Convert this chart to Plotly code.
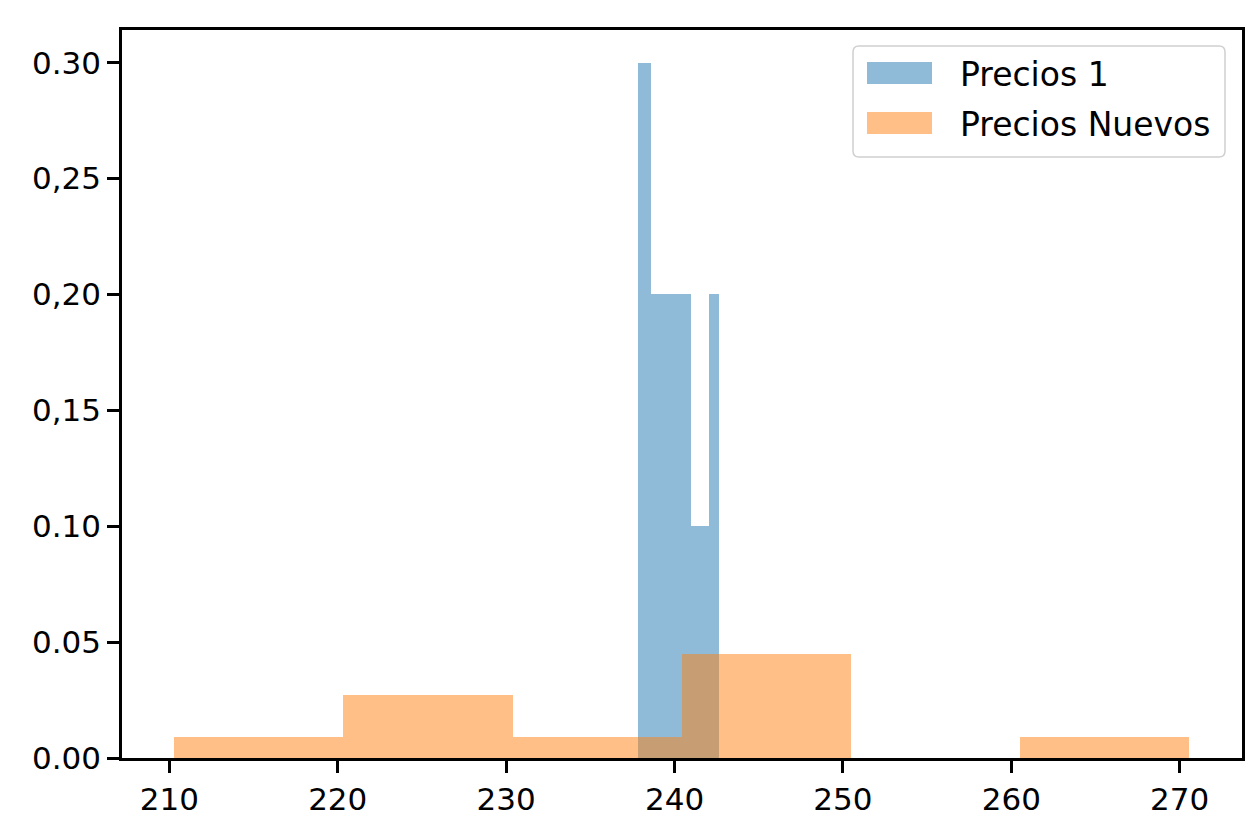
import numpy as np
import plotly.graph_objects as go

# ---- data ----
blue_name = "Precios 1"
blue_edges = [237.82, 238.6, 240.98, 242.06, 242.62]
blue_density = [0.30, 0.20, 0.10, 0.20]

orange_name = "Precios Nuevos"
orange_edges = [210.28, 220.33, 230.38, 240.43, 250.48, 260.53, 270.58]
orange_density = [0.009, 0.027, 0.009, 0.045, 0.0, 0.009]

x_ticks = [210, 220, 230, 240, 250, 260, 270]
y_ticks = [0.0, 0.05, 0.10, 0.15, 0.20, 0.25, 0.30]
y_ticktext = ["0.00", "0.05", "0.10", "0,15", "0,20", "0,25", "0.30"]

BLUE = "rgba(31,119,180,0.5)"
ORANGE = "rgba(255,127,14,0.5)"
FONT = "DejaVu Sans"


def centers_widths(edges):
    e = np.asarray(edges, dtype=float)
    return (e[:-1] + e[1:]) / 2, np.diff(e)


bc, bw = centers_widths(blue_edges)
oc, ow = centers_widths(orange_edges)

fig = go.Figure()
fig.add_trace(go.Bar(x=bc, y=blue_density, width=bw, name=blue_name,
                     marker=dict(color=BLUE, line=dict(width=0))))
fig.add_trace(go.Bar(x=oc, y=orange_density, width=ow, name=orange_name,
                     marker=dict(color=ORANGE, line=dict(width=0))))

L, R, T, B = 122, 16, 30, 74
W, H = 1258, 832
pw, ph = W - L - R, H - T - B


def px(xp):
    return (xp - L) / pw


def py(yp):
    return (H - B - yp) / ph


# manual matplotlib-like legend
x0, x1, y0, y1 = px(853), px(1225), py(157), py(46)
rx, ry = 6 / pw, 6 / ph
path = (f"M {x0+rx},{y1} L {x1-rx},{y1} Q {x1},{y1} {x1},{y1-ry} "
        f"L {x1},{y0+ry} Q {x1},{y0} {x1-rx},{y0} L {x0+rx},{y0} "
        f"Q {x0},{y0} {x0},{y0+ry} L {x0},{y1-ry} Q {x0},{y1} {x0+rx},{y1} Z")
shapes = [dict(type="path", path=path, xref="paper", yref="paper",
               line=dict(color="#d0d0d0", width=1.5), fillcolor="rgba(255,255,255,0.8)")]
shapes.append(dict(type="rect", xref="paper", yref="paper",
                   x0=px(867), x1=px(932), y0=py(84), y1=py(62),
                   fillcolor=BLUE, line=dict(width=0)))
shapes.append(dict(type="rect", xref="paper", yref="paper",
                   x0=px(867), x1=px(932), y0=py(134), y1=py(112),
                   fillcolor=ORANGE, line=dict(width=0)))
annotations = [
    dict(text=blue_name, xref="paper", yref="paper", x=px(958), y=py(74),
         xanchor="left", yanchor="middle", showarrow=False,
         font=dict(family=FONT, size=33, color="black")),
    dict(text=orange_name, xref="paper", yref="paper", x=px(958), y=py(125),
         xanchor="left", yanchor="middle", showarrow=False,
         font=dict(family=FONT, size=33, color="black")),
]

fig.update_layout(
    width=W, height=H,
    margin=dict(l=L, r=R, t=T, b=B, pad=0),
    barmode="overlay",
    bargap=0,
    showlegend=False,
    plot_bgcolor="white",
    paper_bgcolor="white",
    font=dict(family=FONT, size=31, color="black"),
    shapes=shapes,
    annotations=annotations,
    xaxis=dict(range=[207.19, 273.7], tickvals=x_ticks, ticks="outside",
               ticklen=12, tickwidth=2.5, tickcolor="black", showgrid=False,
               zeroline=False, showline=True, linecolor="black", linewidth=2.5,
               mirror=True, tickfont=dict(family=FONT, size=31, color="black")),
    yaxis=dict(range=[0, 0.3141], tickvals=y_ticks, ticktext=y_ticktext,
               ticks="outside", ticklen=12, tickwidth=2.5, tickcolor="black",
               showgrid=False, zeroline=False, showline=True, linecolor="black",
               linewidth=2.5, mirror=True,
               tickfont=dict(family=FONT, size=31, color="black")),
)

fig.write_html("out.html")
